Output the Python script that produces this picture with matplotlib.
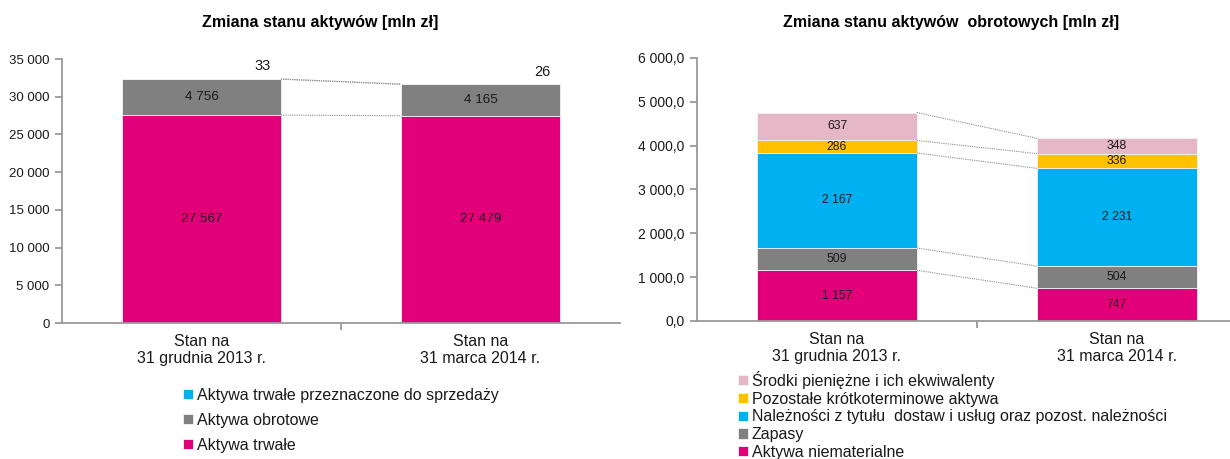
import matplotlib
matplotlib.use("Agg")
import matplotlib.pyplot as plt
import numpy as np

plt.rcParams['font.family'] = ['Liberation Sans', 'DejaVu Sans']

# ---------------- data ----------------
categories = ["Stan na\n31 grudnia 2013 r.", "Stan na\n31 marca 2014 r."]

left_series = ["Aktywa trwałe", "Aktywa obrotowe", "Aktywa trwałe przeznaczone do sprzedaży"]
left_trwale = [27567, 27479]
left_obrotowe = [4756, 4165]
left_sprzedaz = [33, 26]
left_colors = ["#E2007A", "#808080", "#00B0F0"]

right_series = ["Aktywa niematerialne", "Zapasy",
                "Należności z tytułu  dostaw i usług oraz pozost. należności",
                "Pozostałe krótkoterminowe aktywa",
                "Środki pieniężne i ich ekwiwalenty"]
right_niemat = [1157, 747]
right_zapasy = [509, 504]
right_naleznosci = [2167, 2231]
right_pozostale = [286, 336]
right_srodki = [637, 348]
right_colors = ["#E2007A", "#808080", "#00B0F0", "#FFC000", "#E6B8C7"]

W, H = 1230, 459
fig = plt.figure(figsize=(W / 100, H / 100), dpi=100)
fig.patch.set_facecolor("white")

SPINE = "#9A9A9A"
TXT = "#1A1A1A"
bar_w = 0.57


def fmt_left(v):
    return f"{int(round(v)):,}".replace(",", " ")


def fmt_right(v):
    return f"{v:,.1f}".replace(",", " ").replace(".", ",")


def style_axes(ax, ymax, step, fmt, tick_fs):
    ax.set_xlim(-0.5, 1.5)
    ax.set_ylim(0, ymax)
    ax.set_yticks(np.arange(0, ymax + step / 2, step))
    ax.set_yticklabels([fmt(v) for v in np.arange(0, ymax + step / 2, step)],
                       fontsize=tick_fs, color=TXT)
    for s in ("top", "right"):
        ax.spines[s].set_visible(False)
    for s in ("left", "bottom"):
        ax.spines[s].set_color(SPINE)
        ax.spines[s].set_linewidth(1.3)
    ax.tick_params(axis="y", length=5, width=1.3, color=SPINE, pad=4)
    ax.set_xticks([0, 1])
    ax.set_xticklabels(categories, fontsize=11.5, color=TXT, linespacing=1.15)
    ax.tick_params(axis="x", which="major", length=0, pad=8)
    ax.set_xticks([0.5], minor=True)
    ax.tick_params(axis="x", which="minor", length=5, width=1.3, color=SPINE)


def stacked(ax, series_vals, colors, names):
    x = np.arange(len(categories))
    bottom = np.zeros(len(categories))
    containers = []
    tops = []
    for vals, c, n in zip(series_vals, colors, names):
        vals = np.array(vals, dtype=float)
        bc = ax.bar(x, vals, bar_w, bottom=bottom, color=c, edgecolor="#F2F2F2",
                    linewidth=0.6, label=n)
        containers.append(bc)
        bottom = bottom + vals
        tops.append(bottom.copy())
    # connector lines
    for t in tops:
        ax.plot([x[0] + bar_w / 2, x[1] - bar_w / 2], [t[0], t[1]],
                linestyle=(0, (1, 1)), color="#8C8C8C", linewidth=0.8)
    return containers, tops


# ---------------- left chart ----------------
axL = fig.add_axes([62 / W, 136 / H, 558 / W, 264 / H])
contL, topsL = stacked(axL, [left_trwale, left_obrotowe, left_sprzedaz], left_colors, left_series)
style_axes(axL, 35000, 5000, fmt_left, 9.5)
xs = np.arange(len(categories))
for i in range(len(categories)):
    axL.text(xs[i], left_trwale[i] / 2, fmt_left(left_trwale[i]), ha="center", va="center",
             fontsize=9.7, color=TXT)
    axL.text(xs[i], left_trwale[i] + left_obrotowe[i] / 2, fmt_left(left_obrotowe[i]),
             ha="center", va="center", fontsize=9.7, color=TXT)
    axL.annotate(fmt_left(left_sprzedaz[i]), xy=(xs[i] + 0.22, topsL[-1][i]),
                 xytext=(0, 9), textcoords="offset points", ha="center", va="center",
                 fontsize=10.5, color=TXT)

fig.text(320 / W, 1 - 22 / H, "Zmiana stanu aktywów [mln zł]", ha="center", va="center",
         fontsize=11.5, fontweight="bold", color="#000000")

legL = fig.legend(handles=contL[::-1], labels=left_series[::-1], loc="upper left",
                  bbox_to_anchor=(183 / W, 1 - 388 / H), frameon=False, fontsize=11.5,
                  handlelength=0.6, handleheight=0.6, handletextpad=0.25,
                  labelspacing=0.62, borderpad=0, borderaxespad=0)
for t in legL.get_texts():
    t.set_color(TXT)

# ---------------- right chart ----------------
axR = fig.add_axes([697 / W, 138 / H, 560 / W, 263 / H])
right_vals = [right_niemat, right_zapasy, right_naleznosci, right_pozostale, right_srodki]
contR, topsR = stacked(axR, right_vals, right_colors, right_series)
style_axes(axR, 6000, 1000, fmt_right, 10)
for i in range(len(categories)):
    base = 0.0
    for vals in right_vals:
        axR.text(xs[i], base + vals[i] / 2, fmt_left(vals[i]), ha="center", va="center",
                 fontsize=8.8, color=TXT)
        base += vals[i]

fig.text(951 / W, 1 - 22 / H, "Zmiana stanu aktywów  obrotowych [mln zł]", ha="center",
         va="center", fontsize=11.5, fontweight="bold", color="#000000")

legR = fig.legend(handles=contR[::-1], labels=right_series[::-1], loc="upper left",
                  bbox_to_anchor=(738 / W, 1 - 371 / H), frameon=False, fontsize=11.5,
                  handlelength=0.6, handleheight=0.6, handletextpad=0.25,
                  labelspacing=0.17, borderpad=0, borderaxespad=0)
for t in legR.get_texts():
    t.set_color(TXT)

fig.savefig("out.png", dpi=100)
